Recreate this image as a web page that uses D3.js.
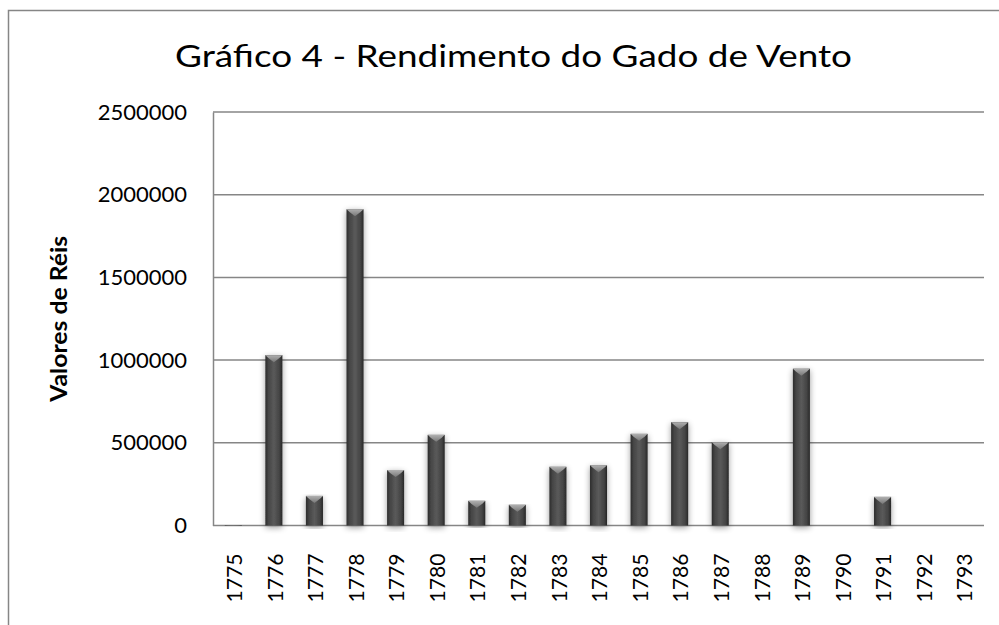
<!DOCTYPE html>
<html>
<head>
<meta charset="utf-8">
<script src="https://cdn.jsdelivr.net/npm/d3@7"></script>
<style>
  body { margin: 0; background: #fff; }
  svg { display: block; font-family: Lato, "Open Sans", sans-serif; }
</style>
</head>
<body>
<svg width="999" height="625"></svg>
<script>
// Data
var years = ['1775','1776','1777','1778','1779','1780','1781','1782','1783','1784',
             '1785','1786','1787','1788','1789','1790','1791','1792','1793'];
var values = [3000, 1030000, 179000, 1912000, 335000, 548000, 149000, 125000, 355000, 364000,
              554000, 625000, 504000, 0, 948000, 0, 173000, 0, 0];
var yTicks = [0, 500000, 1000000, 1500000, 2000000, 2500000];

var svg = d3.select("svg");
var plotL = 213, plotR = 984, plotT = 112, plotB = 525.5;

// outer chart frame (goes past the picture right and bottom)
svg.append("rect")
  .attr("x", 8.5).attr("y", 10.5)
  .attr("width", 1100).attr("height", 700)
  .attr("fill", "none").attr("stroke", "#868686").attr("stroke-width", 1.5);

var defs = svg.append("defs");
var grad = defs.append("linearGradient").attr("id", "barGrad");
[[0, "#2c2c2c"], [0.18, "#454545"], [0.5, "#5a5a5a"], [0.82, "#444"], [1, "#272727"]]
  .forEach(function(s) {
    grad.append("stop").attr("offset", s[0]).attr("stop-color", s[1]);
  });
var capGrad = defs.append("linearGradient").attr("id", "capGrad")
  .attr("x1", 0).attr("y1", 0).attr("x2", 0).attr("y2", 1);
capGrad.append("stop").attr("offset", 0).attr("stop-color", "#b0b0b0");
capGrad.append("stop").attr("offset", 1).attr("stop-color", "#777");

var shadow = defs.append("filter").attr("id", "shadow")
  .attr("x", "-60%").attr("y", "-10%").attr("width", "220%").attr("height", "120%");
shadow.append("feGaussianBlur").attr("in", "SourceAlpha").attr("stdDeviation", 3).attr("result", "b");
shadow.append("feOffset").attr("dy", 2).attr("result", "o");
shadow.append("feComponentTransfer").append("feFuncA").attr("type", "linear").attr("slope", 0.4);
var merge = shadow.append("feMerge");
merge.append("feMergeNode");
merge.append("feMergeNode").attr("in", "SourceGraphic");

var x = d3.scaleBand().domain(years).range([plotL, plotR]).paddingInner(0.58).paddingOuter(0.29);
var y = d3.scaleLinear().domain([0, 2500000]).range([plotB, plotT]);

// gridlines
svg.append("g").selectAll("line")
  .data(yTicks)
  .enter().append("line")
  .attr("x1", plotL).attr("x2", plotR)
  .attr("y1", function(d) { return y(d); })
  .attr("y2", function(d) { return y(d); })
  .attr("stroke", "#868686").attr("stroke-width", 1.5);

// y axis
var yAxis = svg.append("g")
  .attr("transform", "translate(" + plotL + ",0)")
  .call(d3.axisLeft(y).tickValues(yTicks).tickSize(0).tickPadding(26).tickFormat(d3.format("d")));
yAxis.select(".domain").attr("stroke", "#868686").attr("stroke-width", 1.5);
yAxis.selectAll("text").attr("font-size", 22).attr("fill", "#000")
  .attr("font-family", "Lato, sans-serif");

// x axis labels
var xAxis = svg.append("g")
  .attr("transform", "translate(0," + plotB + ")")
  .call(d3.axisBottom(x).tickSize(0).tickPadding(0));
xAxis.select(".domain").remove();
xAxis.selectAll("text")
  .attr("font-size", 22).attr("fill", "#000").attr("font-family", "Lato, sans-serif")
  .attr("transform", "rotate(-90)")
  .attr("x", -77).attr("y", 1).attr("dy", "0.35em")
  .attr("textLength", 49).attr("lengthAdjust", "spacingAndGlyphs")
  .style("text-anchor", "start");

// bars
var bars = svg.append("g").selectAll("g.bar")
  .data(years.map(function(d, i) { return { year: d, value: values[i] }; })
    .filter(function(d) { return d.value > 0; }))
  .enter().append("g").attr("class", "bar").attr("filter", "url(#shadow)");

bars.append("rect")
  .attr("x", function(d) { return x(d.year); })
  .attr("y", function(d) { return y(d.value); })
  .attr("width", x.bandwidth())
  .attr("height", function(d) { return plotB - y(d.value); })
  .attr("fill", "url(#barGrad)");

bars.append("path")
  .attr("d", function(d) {
    var x0 = x(d.year), x1 = x0 + x.bandwidth(), yt = y(d.value);
    var h = Math.min(7, plotB - yt);
    var cx = x0 + x.bandwidth() / 2;
    return "M" + x0 + "," + yt + "L" + x1 + "," + yt + "L" + (x1 - 3) + "," + (yt + h * 0.4) +
      "L" + cx + "," + (yt + h) + "L" + (x0 + 3) + "," + (yt + h * 0.4) + "Z";
  })
  .attr("fill", "url(#capGrad)");

// axis title
svg.append("text")
  .attr("transform", "translate(67," + ((plotT + plotB) / 2) + ") rotate(-90)")
  .attr("text-anchor", "middle")
  .attr("font-size", 22).attr("font-weight", "bold")
  .attr("textLength", 166).attr("lengthAdjust", "spacingAndGlyphs")
  .text("Valores de Réis");

// chart title
svg.append("text")
  .attr("x", 175).attr("y", 67)
  .attr("font-size", 31)
  .attr("textLength", 677).attr("lengthAdjust", "spacingAndGlyphs")
  .text("Gráfico 4 - Rendimento do Gado de Vento");
</script>
</body>
</html>
